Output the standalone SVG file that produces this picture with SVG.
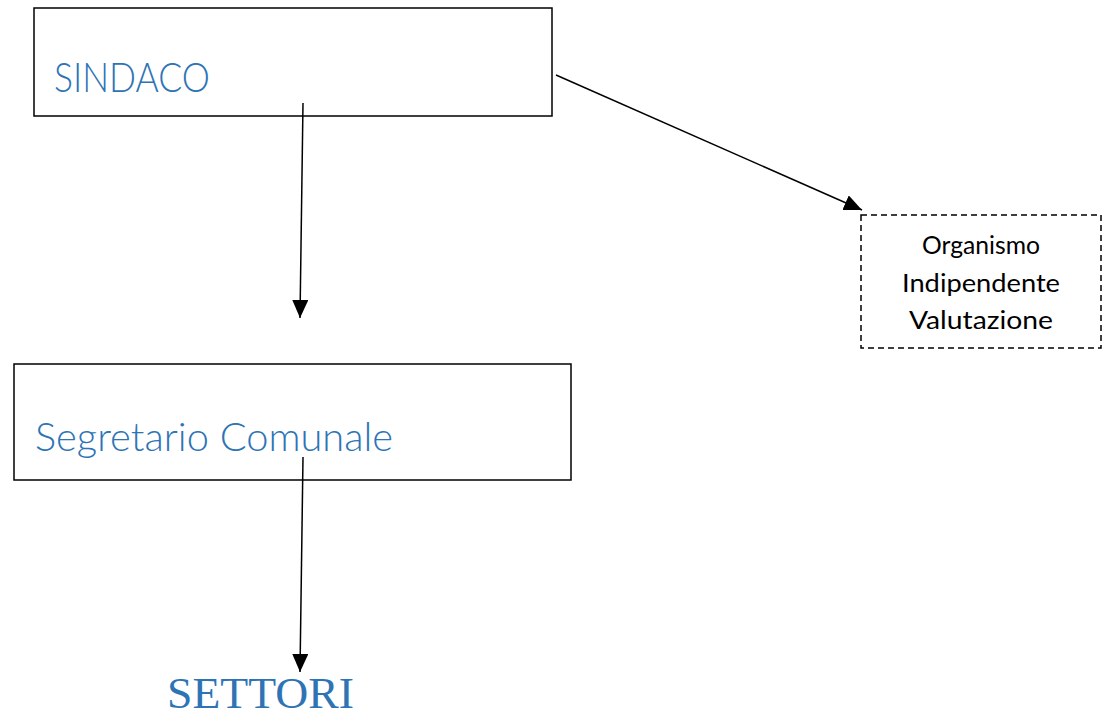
<svg xmlns="http://www.w3.org/2000/svg" width="1102" height="718" viewBox="0 0 1102 718">
<style>
.box{fill:#fff;stroke:#000;stroke-width:1.5}
.dash{fill:#fff;stroke:#000;stroke-width:1.5;stroke-dasharray:6 4}
.blue{fill:#2E74B5;font-family:Lato,"Open Sans",sans-serif;font-weight:300}
.oiv{fill:#000;font-family:Lato,"Liberation Sans",sans-serif;font-size:25px;text-anchor:middle}
.conn{stroke:#000;stroke-width:1.5;fill:none}
</style>
<defs>
<marker id="arr" markerUnits="userSpaceOnUse" markerWidth="18" markerHeight="16" refX="18" refY="8" orient="auto" viewBox="0 0 18 16">
<path d="M0,0 L18,8 L0,16 Z" fill="#000"/>
</marker>
</defs>
<rect width="1102" height="718" fill="#fff"/>
<g id="sindaco">
<rect class="box" x="34" y="8" width="518" height="108"/>
<text class="blue" x="54" y="92" font-size="41" textLength="156" lengthAdjust="spacingAndGlyphs">SINDACO</text>
</g>
<g id="oiv">
<rect class="dash" x="861" y="215" width="240" height="133"/>
<text class="oiv" x="981" y="254" textLength="118" lengthAdjust="spacingAndGlyphs">Organismo</text>
<text class="oiv" x="981" y="292" textLength="158" lengthAdjust="spacingAndGlyphs">Indipendente</text>
<text class="oiv" x="981" y="329" textLength="144" lengthAdjust="spacingAndGlyphs">Valutazione</text>
</g>
<g id="segretario">
<rect class="box" x="14" y="364" width="557" height="116"/>
<text class="blue" x="35" y="451" font-size="39" textLength="358" lengthAdjust="spacingAndGlyphs">Segretario Comunale</text>
</g>
<g id="settori">
<text x="167" y="708" font-family="'Liberation Serif',serif" font-size="44" fill="#2E74B5" textLength="187" lengthAdjust="spacingAndGlyphs">SETTORI</text>
</g>
<g id="connectors">
<line class="conn" x1="303" y1="103" x2="300" y2="318" marker-end="url(#arr)"/>
<line class="conn" x1="556" y1="75" x2="862" y2="210" marker-end="url(#arr)"/>
<line class="conn" x1="303" y1="457" x2="300" y2="672" marker-end="url(#arr)"/>
</g>
</svg>
